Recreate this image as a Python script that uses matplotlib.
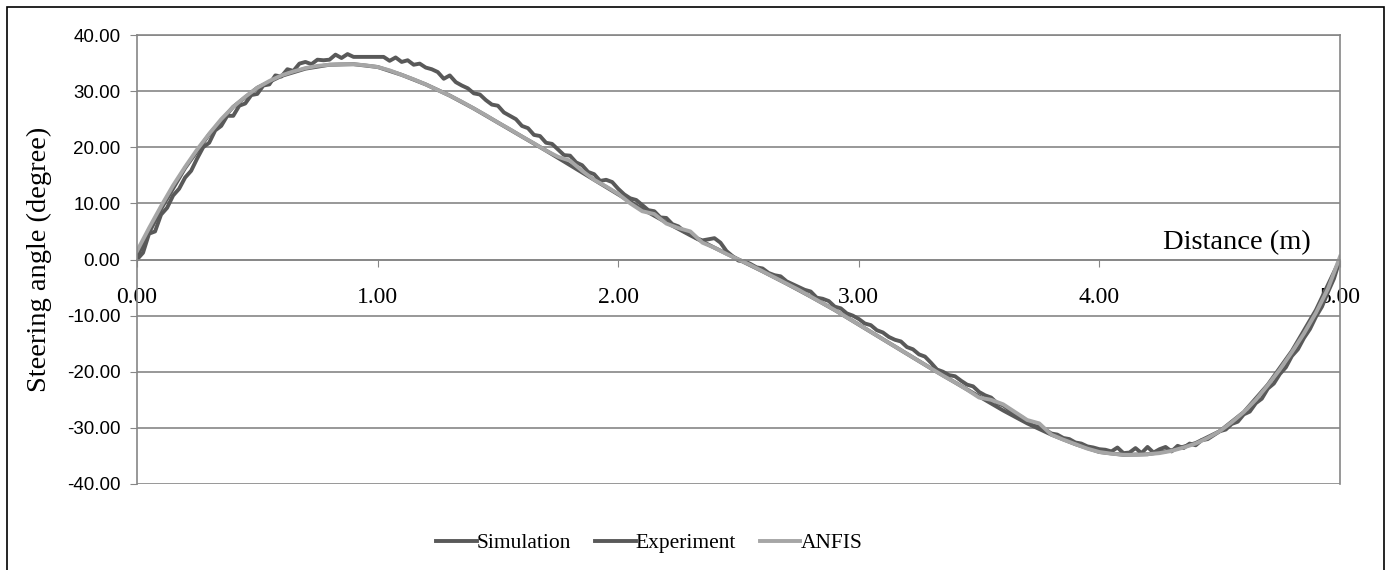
import numpy as np
import matplotlib
matplotlib.use("Agg")
import matplotlib.pyplot as plt
from matplotlib.patches import Rectangle

# distances (m)
sim_x = [i / 10 for i in range(51)]
anfis_x = [i / 20 for i in range(101)]
exp_x = [i / 40 for i in range(201)]

# steering angle (degree)
simulation = [
    0.5, 9.0, 16.3, 22.3, 27.2, 30.6, 32.7, 34.0, 34.7, 34.8,
    34.3, 32.9, 31.2, 29.2, 26.9, 24.4, 21.9, 19.4, 16.8, 14.2,
    11.6, 9.0, 6.6, 4.3, 2.1, 0.0, -2.1, -4.3, -6.6, -9.0,
    -11.6, -14.2, -16.8, -19.4, -21.9, -24.4, -26.9, -29.2, -31.2, -32.9,
    -34.3, -34.8, -34.7, -34.0, -32.7, -30.6, -27.2, -22.3, -16.3, -9.0,
    0.0,
]

anfis = [
    1.5, 5.6, 9.5, 13.2, 16.5, 19.6, 22.4, 25.0, 27.2, 29.0,
    30.6, 31.8, 32.8, 33.5, 34.1, 34.5, 34.7, 34.8, 34.8, 34.6,
    34.3, 33.7, 32.9, 32.1, 31.2, 30.2, 29.2, 28.1, 26.9, 25.7,
    24.4, 23.2, 21.9, 20.7, 19.4, 18.3, 17.6, 15.8, 14.2, 13.0,
    11.7, 10.0, 8.6, 8.1, 6.4, 5.6, 5.0, 3.0, 2.1, 1.0,
    0.0, -1.0, -2.1, -3.2, -4.3, -5.4, -6.6, -7.8, -9.0, -10.3,
    -11.6, -12.9, -14.2, -15.5, -16.8, -18.1, -19.4, -20.7, -21.9, -23.2,
    -24.6, -25.0, -25.8, -27.2, -28.6, -29.2, -31.2, -32.1, -32.9, -33.7,
    -34.3, -34.6, -34.8, -34.8, -34.7, -34.5, -34.1, -33.5, -32.8, -31.8,
    -30.6, -29.0, -27.2, -25.0, -22.4, -19.6, -16.5, -13.2, -9.5, -5.2,
    0.5,
]

experiment = [
    0.0, 1.2, 4.6, 5.0, 8.0, 9.2, 11.4, 12.6, 14.6, 15.8,
    18.0, 20.0, 20.8, 23.0, 23.8, 25.6, 25.6, 27.4, 27.8, 29.3,
    29.5, 31.0, 31.2, 32.8, 32.6, 33.9, 33.6, 34.9, 35.2, 34.8,
    35.6, 35.5, 35.6, 36.5, 35.9, 36.6, 36.1, 36.1, 36.1, 36.1,
    36.1, 36.1, 35.4, 36.0, 35.2, 35.5, 34.7, 34.9, 34.2, 33.9,
    33.4, 32.2, 32.8, 31.6, 31.0, 30.5, 29.6, 29.4, 28.4, 27.6,
    27.4, 26.2, 25.6, 25.0, 23.8, 23.4, 22.2, 22.0, 20.8, 20.6,
    19.6, 18.6, 18.5, 17.3, 16.8, 15.6, 15.2, 14.0, 14.2, 13.8,
    12.6, 11.6, 10.9, 10.6, 9.7, 8.8, 8.6, 7.5, 7.4, 6.3,
    5.9, 5.0, 4.6, 3.8, 3.4, 3.6, 3.8, 3.0, 1.5, 0.6,
    -0.2, -0.3, -0.8, -1.4, -1.6, -2.4, -2.8, -3.0, -3.9, -4.4,
    -4.9, -5.4, -5.7, -6.8, -7.0, -7.4, -8.4, -8.7, -9.6, -10.0,
    -10.6, -11.4, -11.7, -12.6, -13.0, -13.8, -14.3, -14.6, -15.6, -16.0,
    -16.9, -17.3, -18.4, -19.6, -20.0, -20.6, -20.8, -21.6, -22.3, -22.6,
    -23.6, -24.2, -24.6, -25.6, -26.0, -26.8, -27.6, -28.0, -28.8, -29.6,
    -29.8, -30.3, -31.0, -31.2, -31.8, -32.0, -32.6, -32.8, -33.3, -33.5,
    -33.8, -33.9, -34.2, -33.5, -34.5, -34.4, -33.6, -34.5, -33.4, -34.4,
    -33.8, -33.4, -34.2, -33.2, -33.6, -32.8, -33.1, -32.2, -32.0, -31.3,
    -30.6, -30.3, -29.3, -28.9, -27.6, -27.1, -25.6, -24.8, -23.0, -22.1,
    -20.4, -19.2, -17.2, -16.0, -14.0, -12.4, -10.2, -8.4, -5.8, -3.4,
    0.0,
]

x_ticks = [0, 1, 2, 3, 4, 5]
y_ticks = [-40, -30, -20, -10, 0, 10, 20, 30, 40]

dark = "#595959"
light = "#a6a6a6"
axis_gray = "#868686"
serif = "Liberation Serif"

fig = plt.figure(figsize=(13.88, 5.70), dpi=100)
ax = fig.add_axes([137 / 1388, 1 - 484 / 570, (1340 - 137) / 1388, (484 - 35) / 570])

ax.plot(sim_x, simulation, color=dark, lw=2.8, label="Simulation", solid_joinstyle="round")
ax.plot(exp_x, experiment, color=dark, lw=2.8, label="Experiment", solid_joinstyle="round")
ax.plot(anfis_x, anfis, color=light, lw=2.8, label="ANFIS", solid_joinstyle="round")

# axis crosses at y = 0 (set before the tick labels, it resets ticks)
ax.spines["bottom"].set_position(("data", 0))
for side in ["left", "right", "top", "bottom"]:
    ax.spines[side].set_color(axis_gray)
    ax.spines[side].set_linewidth(1.2)

ax.set_xlim(0, 5)
ax.set_ylim(-40, 40)
ax.set_xticks(x_ticks)
ax.set_yticks(y_ticks)
ax.set_xticklabels([f"{v:.2f}" for v in x_ticks], fontfamily=serif, fontsize=17)
ax.set_yticklabels([f"{v:.2f}" for v in y_ticks], fontfamily="Liberation Sans", fontsize=13.5)
ax.tick_params(axis="x", direction="out", length=5, color=axis_gray, pad=15)
ax.tick_params(axis="y", direction="out", length=5, color=axis_gray, pad=7)

ax.grid(axis="y", color=axis_gray, lw=1.2)
ax.set_axisbelow(True)

ax.set_ylabel("Steering angle (degree)", fontfamily=serif, fontsize=20.5)
ax.yaxis.set_label_coords(-0.0707, 0.5)
ax.text(1237, 570 - 243, "Distance (m)", transform=None, fontfamily=serif, fontsize=20.5,
        ha="center", va="center")

fig.legend(loc="center", bbox_to_anchor=(649 / 1388, 1 - 543 / 570), ncol=3,
           frameon=False, handlelength=1.9, handletextpad=0.0, columnspacing=1.1,
           prop={"family": serif, "size": 15.5})

fig.patches.append(Rectangle((7 / 1388, -0.05), 1377 / 1388, 1.05 - 7 / 570,
                             transform=fig.transFigure, fill=False, ec="black", lw=1.2))

fig.savefig("out.png", dpi=100)
